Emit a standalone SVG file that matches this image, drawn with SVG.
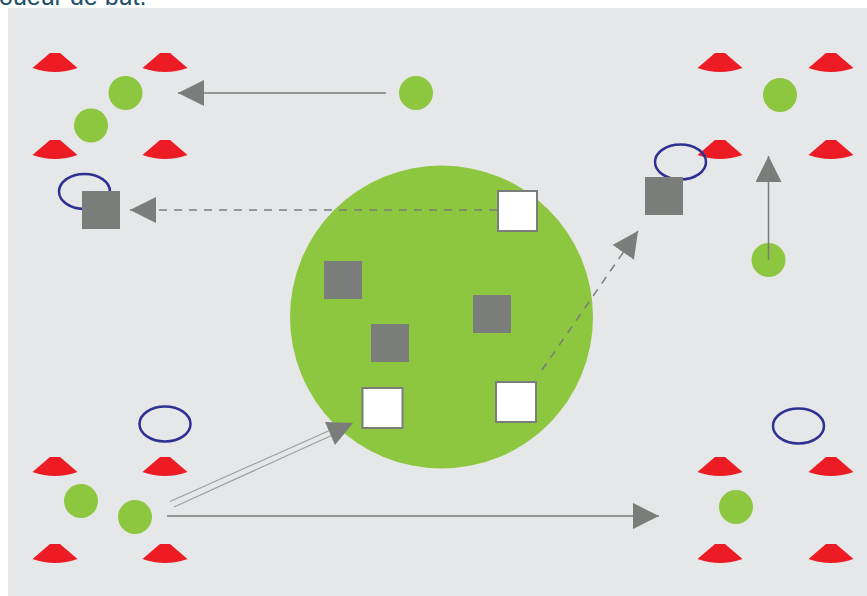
<svg xmlns="http://www.w3.org/2000/svg" width="867" height="596" viewBox="0 0 867 596">
<style>
.field{fill:#e6e7e8}
.cone{fill:#ed1c24}
.player{fill:#8dc63f}
.ring{fill:none;stroke:#2e3192;stroke-width:2.5}
.box{fill:#7b7d7a}
.goal{fill:#ffffff;stroke:#7b7d7a;stroke-width:2}
.ln{stroke:#7b7d7a;stroke-width:1.5;fill:none}
.dash{stroke:#7b7d7a;stroke-width:1.5;fill:none;stroke-dasharray:8 7}
.thin{stroke:#9d9e9d;stroke-width:1.2;fill:none}
.head{fill:#7b7d7a}
.title{font-family:"Liberation Sans",Arial,sans-serif;font-size:25px;fill:#1b4f6b}
</style>
<defs>
<path id="cone" class="cone" d="M-5,0 L5,0 L22.5,15 Q0,23 -22.5,15 Z"/>
<marker id="ah" markerUnits="userSpaceOnUse" markerWidth="26" markerHeight="26" viewBox="0 0 25 25" refX="25" refY="12.5" orient="auto">
<path class="head" d="M0,0 L25,12.5 L0,25 Z"/>
</marker>
</defs>
<text class="title" x="-1" y="5">oueur de but.</text>
<rect class="field" x="8" y="8" width="859" height="588"/>
<g id="big-circle"><circle class="player" cx="441.5" cy="317" r="151.5"/></g>
<g id="cones">
<use href="#cone" x="55" y="53"/><use href="#cone" x="165" y="53"/>
<use href="#cone" x="55" y="140"/><use href="#cone" x="165" y="140"/>
<use href="#cone" x="720" y="53"/><use href="#cone" x="831" y="53"/>
<use href="#cone" x="720" y="140"/><use href="#cone" x="831" y="140"/>
<use href="#cone" x="55" y="457"/><use href="#cone" x="165" y="457"/>
<use href="#cone" x="55" y="544"/><use href="#cone" x="165" y="544"/>
<use href="#cone" x="720" y="457"/><use href="#cone" x="831" y="457"/>
<use href="#cone" x="720" y="544"/><use href="#cone" x="831" y="544"/>
</g>
<g id="rings">
<ellipse class="ring" cx="84.5" cy="191.5" rx="25.5" ry="17.5"/>
<ellipse class="ring" cx="680.5" cy="162" rx="25.5" ry="17.5"/>
<ellipse class="ring" cx="165" cy="424" rx="25.5" ry="17.5"/>
<ellipse class="ring" cx="798.5" cy="426" rx="25.5" ry="17.5"/>
</g>
<g id="players">
<circle class="player" cx="125.5" cy="93" r="17"/>
<circle class="player" cx="91" cy="125.5" r="17"/>
<circle class="player" cx="416" cy="93" r="17"/>
<circle class="player" cx="780" cy="95" r="17"/>
<circle class="player" cx="768.5" cy="260" r="17"/>
<circle class="player" cx="81" cy="501" r="17"/>
<circle class="player" cx="135" cy="517" r="17"/>
<circle class="player" cx="736" cy="507" r="17"/>
</g>
<g id="boxes">
<rect class="box" x="82" y="191" width="38" height="38"/>
<rect class="box" x="645" y="177" width="38" height="38"/>
<rect class="box" x="324" y="261" width="38" height="38"/>
<rect class="box" x="371" y="324" width="38" height="38"/>
<rect class="box" x="473" y="295" width="38" height="38"/>
</g>
<g id="goals">
<rect class="goal" x="498" y="191" width="39" height="40"/>
<rect class="goal" x="362.5" y="388" width="40" height="40"/>
<rect class="goal" x="496" y="382" width="40" height="40"/>
</g>
<g id="connectors">
<line class="ln" x1="386" y1="93" x2="178" y2="93" marker-end="url(#ah)"/>
<line class="dash" x1="497" y1="210" x2="130" y2="210" marker-end="url(#ah)"/>
<line class="dash" x1="542" y1="370" x2="638" y2="231" marker-end="url(#ah)"/>
<line class="ln" x1="768.5" y1="260" x2="768.5" y2="156" marker-end="url(#ah)"/>
<line class="ln" x1="167" y1="516" x2="659" y2="516" marker-end="url(#ah)"/>
<line class="thin" x1="170" y1="501.5" x2="329" y2="430.7"/>
<line class="thin" x1="174" y1="507" x2="331.5" y2="435.5"/>
<path class="head" d="M353,423 L325,422 L335,445 Z"/>
</g>
</svg>
